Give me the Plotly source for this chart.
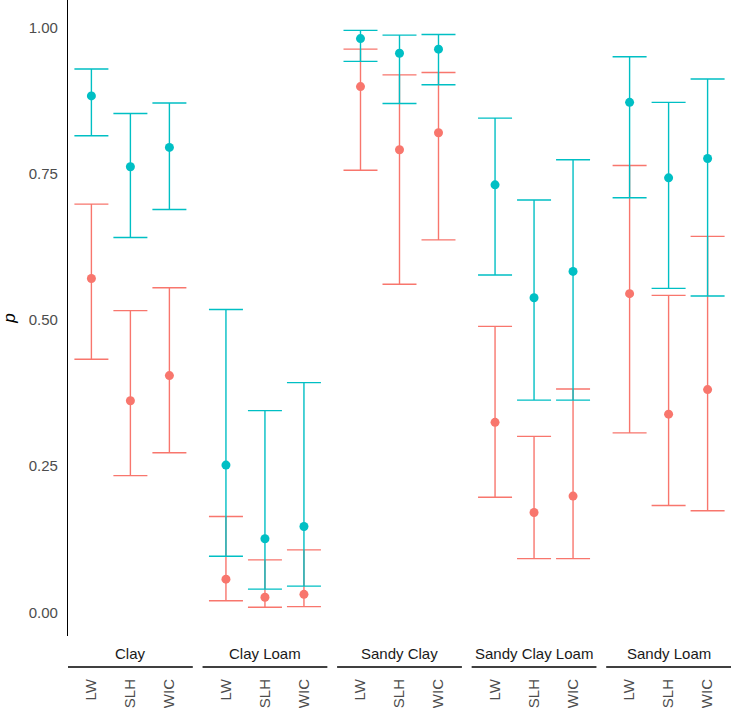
import plotly.graph_objects as go
from plotly.subplots import make_subplots

soils = ["Clay", "Clay Loam", "Sandy Clay", "Sandy Clay Loam", "Sandy Loam"]
methods = ["LW", "SLH", "WIC"]

# red series (first group)
red_p = [[0.571, 0.362, 0.405], [0.057, 0.026, 0.031], [0.899, 0.791, 0.820],
         [0.325, 0.171, 0.199], [0.545, 0.339, 0.381]]
red_lo = [[0.433, 0.234, 0.273], [0.020, 0.009, 0.010], [0.756, 0.561, 0.637],
          [0.197, 0.092, 0.092], [0.307, 0.183, 0.174]]
red_hi = [[0.698, 0.516, 0.555], [0.164, 0.090, 0.107], [0.963, 0.919, 0.923],
          [0.489, 0.301, 0.382], [0.764, 0.542, 0.643]]

# teal series (second group)
teal_p = [[0.883, 0.762, 0.795], [0.252, 0.126, 0.147], [0.981, 0.956, 0.963],
          [0.731, 0.538, 0.583], [0.872, 0.743, 0.776]]
teal_lo = [[0.815, 0.641, 0.689], [0.096, 0.040, 0.045], [0.942, 0.870, 0.902],
           [0.577, 0.363, 0.363], [0.709, 0.554, 0.541]]
teal_hi = [[0.929, 0.853, 0.871], [0.518, 0.345, 0.393], [0.995, 0.987, 0.988],
           [0.845, 0.705, 0.774], [0.950, 0.872, 0.912]]

RED = "#F8766D"
TEAL = "#00BFC4"
FONT = "Liberation Sans, Arial, sans-serif"

fig = make_subplots(rows=1, cols=5, shared_yaxes=True, horizontal_spacing=0.0147)

for i, soil in enumerate(soils):
    for p, lo, hi, col in [(red_p, red_lo, red_hi, RED), (teal_p, teal_lo, teal_hi, TEAL)]:
        fig.add_trace(go.Scatter(
            x=methods, y=p[i], mode="markers",
            marker=dict(color=col, size=9),
            error_y=dict(type="data", symmetric=False,
                         array=[h - v for h, v in zip(hi[i], p[i])],
                         arrayminus=[v - l for v, l in zip(p[i], lo[i])],
                         color=col, thickness=1.4, width=17),
            showlegend=False, hoverinfo="skip"), row=1, col=i + 1)
    xa = "x" if i == 0 else f"x{i+1}"
    fig.add_annotation(text=soil, xref=f"{xa} domain", yref="paper", x=0.5, y=0,
                       yanchor="middle", yshift=-17, showarrow=False,
                       font=dict(family=FONT, size=15, color="#1A1A1A"))
    fig.add_shape(type="line", xref=f"{xa} domain", yref="paper", x0=0, x1=1,
                  y0=-31 / 636, y1=-31 / 636, line=dict(color="black", width=1.3))
    fig.update_xaxes(type="category", categoryorder="array", categoryarray=methods,
                     range=[-0.6, 2.6], showgrid=False, zeroline=False, showline=False,
                     ticks="", tickangle=-90, ticklabelstandoff=39, automargin=False,
                     tickfont=dict(family=FONT, size=15, color="#4D4D4D"),
                     row=1, col=i + 1)

fig.update_yaxes(range=[-0.0402, 1.047], showgrid=False, zeroline=False,
                 tickvals=[0, 0.25, 0.5, 0.75, 1.0],
                 ticktext=["0.00", "0.25", "0.50", "0.75", "1.00"],
                 ticks="", ticklabelstandoff=6, automargin=False,
                 tickfont=dict(family=FONT, size=15, color="#4D4D4D"))
fig.update_yaxes(showline=True, linecolor="black", linewidth=1.3,
                 title=dict(text="<i>p</i>", standoff=17,
                            font=dict(family=FONT, size=17, color="black")),
                 row=1, col=1)

fig.update_layout(width=732, height=708, margin=dict(l=68, r=1, t=0, b=72, pad=0),
                  plot_bgcolor="white", paper_bgcolor="white",
                  font=dict(family=FONT))

fig.write_html("out.html", config={"displayModeBar": False},
               post_script="document.body.style.margin='0';document.body.style.overflow='hidden';")
